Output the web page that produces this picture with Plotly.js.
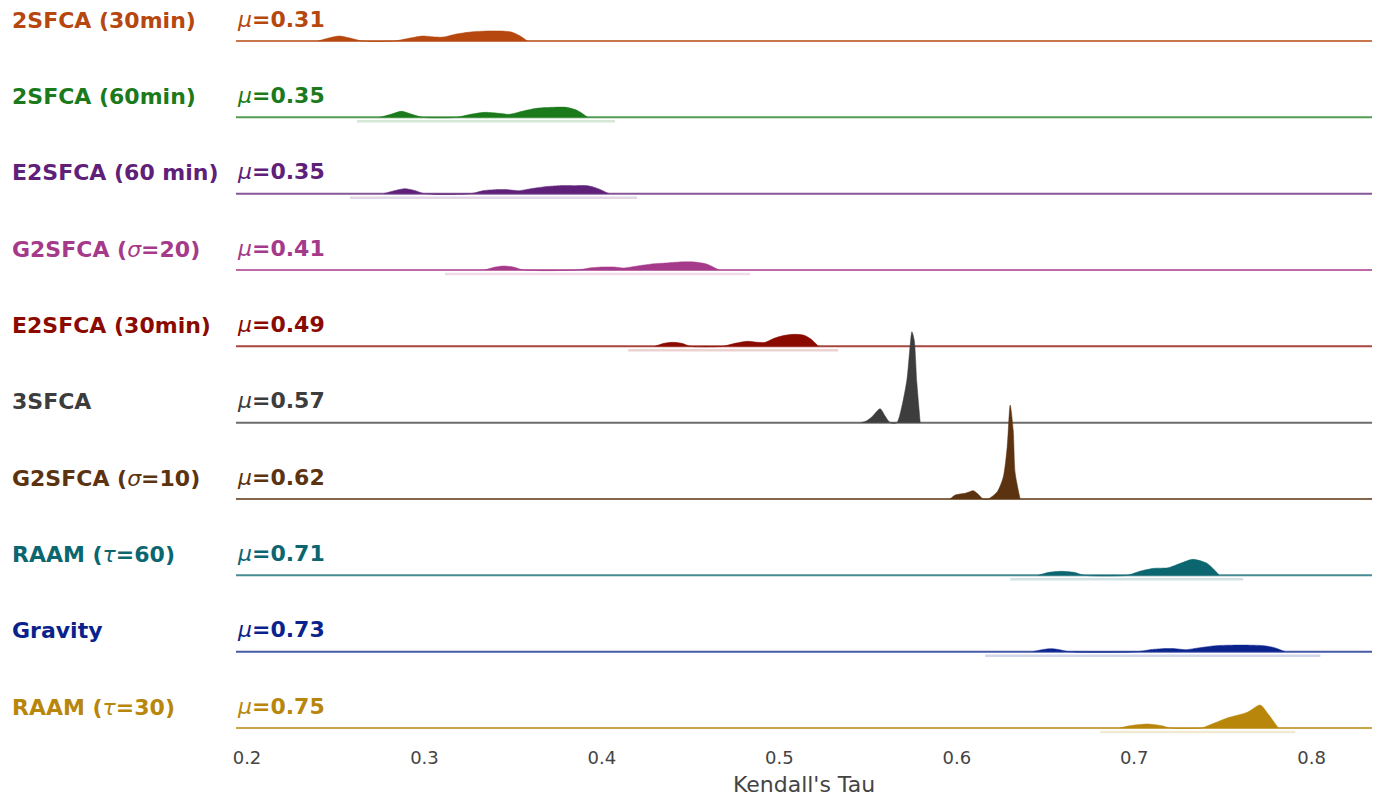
<!DOCTYPE html>
<html>
<head>
<meta charset="utf-8">
<script src="https://cdn.plot.ly/plotly-3.0.1.min.js"></script>
<style>html,body{margin:0;padding:0;background:#fff;} #chart{width:1379px;height:797px;}</style>
</head>
<body>
<div id="chart"></div>
<script>
// ---- data (top row first) ----
const categories = ["2SFCA (30min)", "2SFCA (60min)", "E2SFCA (60 min)", "G2SFCA (σ=20)", "E2SFCA (30min)",
                    "3SFCA", "G2SFCA (σ=10)", "RAAM (τ=60)", "Gravity", "RAAM (τ=30)"];
const labelHtml = ["<b>2SFCA (30min)</b>", "<b>2SFCA (60min)</b>", "<b>E2SFCA (60 min)</b>",
                   "<b>G2SFCA (</b><i>σ</i><b>=20)</b>", "<b>E2SFCA (30min)</b>", "<b>3SFCA</b>",
                   "<b>G2SFCA (</b><i>σ</i><b>=10)</b>", "<b>RAAM (</b><i>τ</i><b>=60)</b>",
                   "<b>Gravity</b>", "<b>RAAM (</b><i>τ</i><b>=30)</b>"];
const muValues = [0.31, 0.35, 0.35, 0.41, 0.49, 0.57, 0.62, 0.71, 0.73, 0.75];
const colors = ["#B5470F", "#1B7A1B", "#5E2078", "#A63A8A", "#8B0A00",
                "#3D3D3D", "#5C3310", "#0B6670", "#0A238C", "#B8860B"];

// density estimates (x = Kendall's tau, d = density, arbitrary units)
const x_2sfca30 = [0.240,0.246,0.252,0.258,0.265,0.283,0.292,0.299,0.306,0.311,0.318,0.326,0.335,0.343,0.349,0.354,0.358];
const d_2sfca30 = [0,3,5,3,0,0,3,5,4,4,7,9,10,10,9,5,0];
const x_2sfca60 = [0.275,0.281,0.287,0.293,0.299,0.318,0.326,0.334,0.342,0.348,0.355,0.363,0.372,0.380,0.386,0.392];
const d_2sfca60 = [0,3,6,3,0,0,3,5,4,3,6,9,10,10,7,0];
const x_e2sfca60 = [0.277,0.283,0.289,0.295,0.300,0.326,0.333,0.340,0.347,0.353,0.360,0.368,0.376,0.384,0.392,0.398,0.404];
const d_e2sfca60 = [0,3,5,3,0,0,3,4,4,3,5,7,8,8,8,5,0];
const x_g2sfca20 = [0.334,0.340,0.345,0.350,0.356,0.386,0.393,0.400,0.407,0.412,0.420,0.428,0.436,0.444,0.452,0.459,0.466];
const d_g2sfca20 = [0,3,4,3,0,0,2,3,3,2,4,6,7,8,8,6,0];
const x_e2sfca30 = [0.430,0.435,0.440,0.445,0.450,0.468,0.475,0.482,0.488,0.492,0.497,0.503,0.509,0.514,0.518,0.522];
const d_e2sfca30 = [0,3,4,3,0,0,3,5,4,4,8,11,12,11,7,0];
const x_3sfca = [0.5460,0.5490,0.5521,0.5568,0.5596,0.5625,0.5662,0.5691,0.5719,0.5737,0.5747,0.5760,0.5775,0.5794];
const d_3sfca = [0,1.7,5.7,14,6.7,0,0,16.7,43,77,91,83,40,0];
const x_g2sfca10 = [0.5963,0.5991,0.6047,0.6093,0.6115,0.6149,0.6177,0.6228,0.6262,0.6284,0.6301,0.6318,0.6329,0.6357];
const d_g2sfca10 = [0,4,5.7,8.3,5.7,0,0,7.3,22,52,94,69,26,0];
const x_raam60 = [0.646,0.652,0.659,0.666,0.672,0.696,0.703,0.711,0.719,0.726,0.733,0.741,0.748];
const d_raam60 = [0,3,4,3,0,0,4,7,7.5,12,16,12,0];
const x_gravity = [0.643,0.648,0.653,0.658,0.663,0.702,0.709,0.716,0.723,0.729,0.737,0.746,0.755,0.765,0.773,0.779,0.785];
const d_gravity = [0,2,3,2,0,0,2,3,3,2,4,6,6.5,6.5,6,4,0];
const x_raam30 = [0.692,0.6966,0.7073,0.7163,0.720,0.738,0.7411,0.7524,0.7637,0.771,0.7755,0.7812];
const d_raam30 = [0,2,4,2,0,0,2,10,15.7,23,14,0];

const densX = [x_2sfca30, x_2sfca60, x_e2sfca60, x_g2sfca20, x_e2sfca30, x_3sfca, x_g2sfca10, x_raam60, x_gravity, x_raam30];
const densD = [d_2sfca30, d_2sfca60, d_e2sfca60, d_g2sfca20, d_e2sfca30, d_3sfca, d_g2sfca10, d_raam60, d_gravity, d_raam30];

// observed min / max range of each method (null = not visible)
const rangeLo = [null, 0.262, 0.258, 0.3116, 0.4148, null, null, 0.6301, 0.616, 0.6808];
const rangeHi = [null, 0.4074, 0.4198, 0.4835, 0.5332, null, null, 0.7614, 0.8049, 0.7908];

const xTicks = [0.2, 0.3, 0.4, 0.5, 0.6, 0.7, 0.8];

// ---- build ----
const ROW_PX = 76.33;
const dScale = 1 / ROW_PX;
const n = categories.length;
const traces = [];
const shapes = [];
const annotations = [];
const FONT = "DejaVu Sans, sans-serif";

for (let i = 0; i < n; i++) {
  const base = n - 1 - i;
  // baseline
  shapes.push({type: "line", xref: "paper", yref: "y", x0: 0, x1: 1, y0: base, y1: base,
               line: {color: colors[i], width: 2}, opacity: 0.75, layer: "below"});
  // range line
  if (rangeLo[i] !== null) {
    traces.push({x: [rangeLo[i], rangeHi[i]], y: [base - 4 * dScale, base - 4 * dScale], mode: "lines",
                 line: {color: colors[i], width: 2.5}, opacity: 0.18, hoverinfo: "skip", showlegend: false});
  }
  // density fill
  const xs = densX[i], ds = densD[i];
  traces.push({x: xs.slice(), y: ds.map(v => base + v * dScale), mode: "lines", fill: "toself",
               fillcolor: colors[i], line: {color: colors[i], width: 0.5, shape: "spline", smoothing: 0.7},
               hoverinfo: "skip", showlegend: false, name: categories[i]});
  // labels
  annotations.push({xref: "paper", yref: "y", x: -226 / 1136, y: base + 21 * dScale, xanchor: "left", yanchor: "middle",
                    text: labelHtml[i], showarrow: false, font: {family: FONT, size: 22, color: colors[i]}});
  annotations.push({xref: "paper", yref: "y", x: -0.001, y: base + 22 * dScale, xanchor: "left", yanchor: "middle",
                    text: "<i>μ</i><b>=" + muValues[i].toFixed(2) + "</b>", showarrow: false,
                    font: {family: FONT, size: 22, color: colors[i]}});
}

const layout = {
  width: 1379, height: 797,
  margin: {l: 236, r: 7, t: 0, b: 57},
  paper_bgcolor: "#fff", plot_bgcolor: "#fff",
  showlegend: false,
  xaxis: {range: [0.1938, 0.834], tickvals: xTicks, ticktext: xTicks.map(v => v.toFixed(1)),
          showgrid: false, zeroline: false, showline: false, ticks: "outside", ticklen: 1, tickcolor: "rgba(0,0,0,0)",
          tickfont: {family: FONT, size: 18, color: "#444"},
          title: {text: "Kendall's Tau", font: {family: FONT, size: 22, color: "#444"}, standoff: 14}},
  yaxis: {range: [-12 / ROW_PX, 9 + 41 / ROW_PX], visible: false, showgrid: false, zeroline: false, fixedrange: true},
  shapes: shapes,
  annotations: annotations
};

Plotly.newPlot("chart", traces, layout, {displayModeBar: false, staticPlot: true});
</script>
</body>
</html>
